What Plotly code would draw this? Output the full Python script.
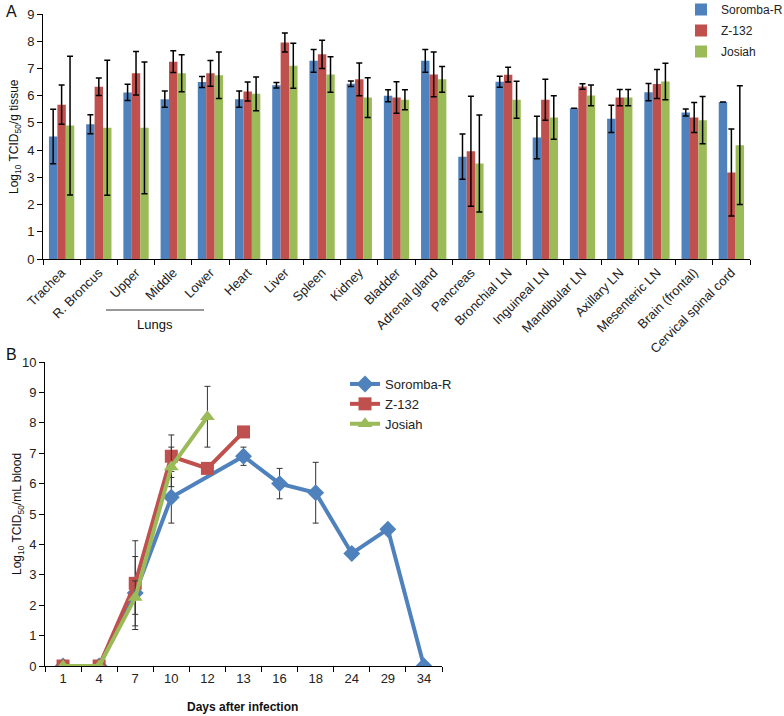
import plotly.graph_objects as go

# ---------- Panel A data ----------
tissues = ["Trachea", "R. Broncus", "Upper", "Middle", "Lower", "Heart", "Liver", "Spleen",
           "Kidney", "Bladder", "Adrenal gland", "Pancreas", "Bronchial LN", "Inguineal LN",
           "Mandibular LN", "Axillary LN", "Mesenteric LN", "Brain (frontal)", "Cervical spinal cord"]
soromba_a = [4.5, 4.95, 6.12, 5.87, 6.5, 5.87, 6.38, 7.28, 6.44, 6.0, 7.28, 3.76, 6.51, 4.46, 5.54, 5.15, 6.13, 5.38, 5.77]
soromba_a_err = [1.0, 0.35, 0.3, 0.3, 0.2, 0.3, 0.1, 0.42, 0.1, 0.22, 0.42, 0.83, 0.2, 0.78, 0.0, 0.5, 0.32, 0.13, 0.0]
z132_a = [5.67, 6.33, 6.82, 7.25, 6.82, 6.15, 7.95, 7.52, 6.6, 5.93, 6.78, 3.96, 6.77, 5.85, 6.34, 5.93, 6.43, 5.2, 3.18]
z132_a_err = [0.72, 0.32, 0.8, 0.4, 0.47, 0.35, 0.35, 0.52, 0.6, 0.58, 0.82, 2.02, 0.27, 0.75, 0.1, 0.3, 0.53, 0.55, 1.6]
josiah_a = [4.9, 4.82, 4.82, 6.82, 6.75, 6.07, 7.1, 6.78, 5.93, 5.85, 6.6, 3.51, 5.85, 5.2, 6.01, 5.93, 6.52, 5.1, 4.18]
josiah_a_err = [2.55, 2.48, 2.42, 0.68, 0.85, 0.62, 0.83, 0.65, 0.73, 0.37, 0.47, 1.78, 0.68, 0.8, 0.38, 0.3, 0.67, 0.87, 2.18]

# ---------- Panel B data ----------
days = ["1", "4", "7", "10", "12", "13", "16", "18", "24", "29", "34"]
soromba_days = ["1", "4", "7", "10", "13", "16", "18", "24", "29", "34"]
soromba_b = [0, 0, 2.4, 5.55, 6.9, 6.0, 5.7, 3.7, 4.5, 0]
soromba_b_err = [0, 0, 1.2, 0.85, 0.3, 0.5, 1.0, 0, 0, 0]
z132_days = ["1", "4", "7", "10", "12", "13"]
z132_b = [0, 0, 2.72, 6.9, 6.5, 7.7]
z132_b_err = [0, 0, 1.4, 0.7, 0, 0]
josiah_days = ["1", "4", "7", "10", "12"]
josiah_b = [0, 0, 2.25, 6.55, 8.2]
josiah_b_err = [0, 0, 0.55, 0.65, 1.0]

BLUE, RED, GREEN = "#4F81BD", "#C0504D", "#9BBB59"
FONT = "Liberation Sans, Arial, sans-serif"
W, H = 784, 716


def px_x(p):
    return p / W


def px_y(p):
    return 1 - p / H


fig = go.Figure()

for name, vals, errs, col in [("Soromba-R", soromba_a, soromba_a_err, BLUE),
                              ("Z-132", z132_a, z132_a_err, RED),
                              ("Josiah", josiah_a, josiah_a_err, GREEN)]:
    fig.add_trace(go.Bar(
        x=tissues, y=vals, name=name, marker=dict(color=col, line=dict(width=0)),
        error_y=dict(type="data", array=errs, visible=True, color="black", thickness=1.5, width=3),
        xaxis="x", yaxis="y", legend="legend", legendgroup="a_" + name))

for name, xs, vals, errs, col, sym in [("Soromba-R", soromba_days, soromba_b, soromba_b_err, BLUE, "diamond"),
                                       ("Z-132", z132_days, z132_b, z132_b_err, RED, "square"),
                                       ("Josiah", josiah_days, josiah_b, josiah_b_err, GREEN, "triangle-up")]:
    fig.add_trace(go.Scatter(
        x=xs, y=vals, name=name, mode="lines+markers",
        line=dict(color=col, width=4),
        marker=dict(symbol=sym, size=13, color=col),
        error_y=dict(type="data", array=errs, visible=True, color="#333333", thickness=1, width=3),
        xaxis="x2", yaxis="y2", legend="legend2"))

axis_common = dict(showgrid=False, zeroline=False, showline=True, linecolor="black", linewidth=1,
                   ticks="outside", ticklen=5, tickcolor="black", automargin=False,
                   tickfont=dict(family=FONT, size=13, color="#222"))

fig.update_layout(
    width=W, height=H, margin=dict(l=0, r=0, t=0, b=0, autoexpand=False),
    plot_bgcolor="white", paper_bgcolor="white",
    font=dict(family=FONT, color="#222"),
    barmode="group", bargap=0.32, bargroupgap=0,
    xaxis=dict(domain=[px_x(43), px_x(750)], anchor="y", type="category",
               tickson="boundaries", tickangle=-45, range=[-0.5, len(tissues) - 0.5], **axis_common),
    yaxis=dict(domain=[px_y(259), px_y(14)], anchor="x", range=[0, 9], dtick=1, **axis_common),
    xaxis2=dict(domain=[px_x(45), px_x(442)], anchor="y2", type="category",
                categoryorder="array", categoryarray=days, tickson="boundaries",
                range=[-0.5, len(days) - 0.5], tickangle=0, **axis_common),
    yaxis2=dict(domain=[px_y(666), px_y(362)], anchor="x2", range=[0, 10], dtick=1, **axis_common),
    legend=dict(x=px_x(681), y=px_y(-5), xanchor="left", yanchor="top",
                font=dict(family=FONT, size=12, color="#222"), tracegroupgap=2,
                bgcolor="rgba(0,0,0,0)"),
    legend2=dict(x=px_x(345), y=px_y(369), xanchor="left", yanchor="top",
                 font=dict(family=FONT, size=13, color="#222"),
                 bgcolor="rgba(0,0,0,0)"),
)

annotations = [
    dict(text="A", x=px_x(4), y=px_y(1), xref="paper", yref="paper", xanchor="left", yanchor="top",
         showarrow=False, font=dict(family=FONT, size=16, color="#111")),
    dict(text="B", x=px_x(4), y=px_y(344), xref="paper", yref="paper", xanchor="left", yanchor="top",
         showarrow=False, font=dict(family=FONT, size=16, color="#111")),
    dict(text="Log<sub>10</sub> TCID<sub>50</sub>/g tissue", x=px_x(15), y=px_y(137), xref="paper",
         yref="paper", xanchor="center", yanchor="middle", textangle=-90, showarrow=False,
         font=dict(family=FONT, size=12, color="#111")),
    dict(text="Log<sub>10</sub> TCID<sub>50</sub>/mL blood", x=px_x(18), y=px_y(514), xref="paper",
         yref="paper", xanchor="center", yanchor="middle", textangle=-90, showarrow=False,
         font=dict(family=FONT, size=12, color="#111")),
    dict(text="<b>Days after infection</b>", x=px_x(242), y=px_y(707), xref="paper", yref="paper",
         xanchor="center", yanchor="middle", showarrow=False, font=dict(family=FONT, size=12, color="#111")),
    dict(text="Lungs", x=px_x(155), y=px_y(324), xref="paper", yref="paper",
         xanchor="center", yanchor="middle", showarrow=False, font=dict(family=FONT, size=13, color="#111")),
]
fig.update_layout(annotations=annotations)
fig.add_shape(type="line", xref="paper", yref="paper", x0=px_x(106), x1=px_x(204),
              y0=px_y(310), y1=px_y(310), line=dict(color="#333", width=1))

fig.write_html("out.html", config={"displayModeBar": False},
               post_script="document.body.style.margin='0px';document.body.style.overflow='hidden';")
